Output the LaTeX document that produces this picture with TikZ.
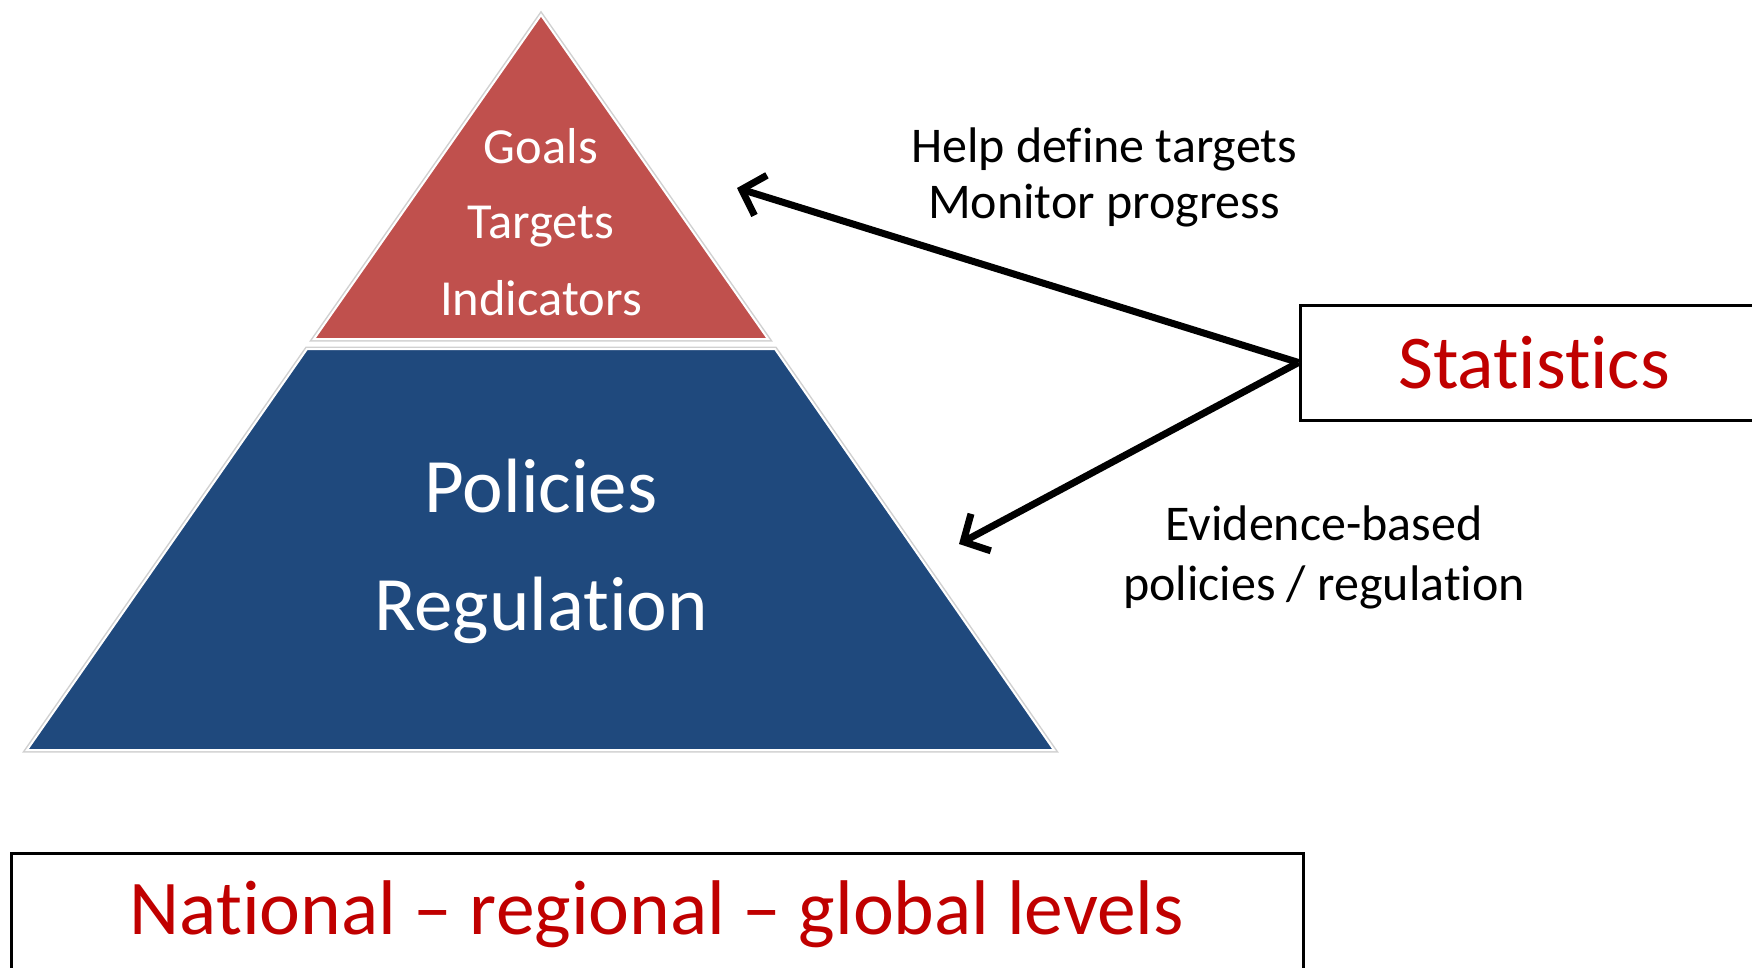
\documentclass[tikz,border=0pt]{standalone}
\usepackage{fontspec}
\setmainfont{Carlito}[RawFeature=-liga]
\usetikzlibrary{arrows.meta}
\definecolor{pyrred}{HTML}{C0504D}
\definecolor{pyrblue}{HTML}{1F497D}
\definecolor{txtred}{HTML}{C00000}
\begin{document}
\begin{tikzpicture}[x=1pt,y=-1pt,
  edgeshadow/.style={draw=black!18, line width=5pt, line join=miter},
  edgewhite/.style={draw=white, line width=2pt, line join=miter},
  wtxt/.style={text=white, inner sep=0pt, anchor=base},
  smalltxt/.style={font=\fontsize{50.5}{60}\selectfont},
  bigtxt/.style={font=\fontsize{77}{90}\selectfont},
  labeltxt/.style={text=black, inner sep=0pt, anchor=base, font=\fontsize{50}{60}\selectfont},
  framebox/.style={draw=black, line width=3pt, fill=white, text=txtred, inner sep=0pt},
  bigarrow/.style={draw=black, line width=7pt, -{Straight Barb[length=20pt,width=42pt,line width=7pt]}}
]
\path[use as bounding box, fill=white] (0,0) rectangle (1752,967);
\clip (0,0) rectangle (1752,967);

% red triangle
\path[edgeshadow] (541,15) -- (768,339) -- (314,339) -- cycle;
\fill[pyrred] (541,15) -- (768,339) -- (314,339) -- cycle;
\path[edgewhite] (541,15) -- (768,339) -- (314,339) -- cycle;

% blue trapezoid
\path[edgeshadow] (307,349) -- (775,349) -- (1054,750) -- (27,750) -- cycle;
\fill[pyrblue] (307,349) -- (775,349) -- (1054,750) -- (27,750) -- cycle;
\path[edgewhite] (307,349) -- (775,349) -- (1054,750) -- (27,750) -- cycle;

% pyramid texts
\node[wtxt, smalltxt] (goals) at (541,163) {Goals};
\node[wtxt, smalltxt] (targets) at (541,238) {Targets};
\node[wtxt, smalltxt] (indicators) at (541,315) {Indicators};
\node[wtxt, bigtxt] (policies) at (541,512) {Policies};
\node[wtxt, bigtxt] (regulation) at (541,630) {Regulation};

% labels
\node[labeltxt] (help) at (1104,162) {Help define targets};
\node[labeltxt] (monitor) at (1104,218) {Monitor progress};
\node[labeltxt] (evidence) at (1324,540) {Evidence-based};
\node[labeltxt] (polreg) at (1324,600) {policies / regulation};

% boxes
\node[framebox, font=\fontsize{76}{90}\selectfont, minimum width=468pt, minimum height=115pt] (stat) at (1534,362.5) {Statistics};
\node[framebox, font=\fontsize{77.5}{90}\selectfont, minimum width=1292pt, minimum height=122pt] (levels) at (657,914) {National -- regional -- global levels};

% arrows
\coordinate (tipA) at (737,188);
\coordinate (tipB) at (959,544);
\draw[bigarrow] (stat.west) -- (tipA);
\draw[bigarrow] (stat.west) -- (tipB);
\end{tikzpicture}
\end{document}
